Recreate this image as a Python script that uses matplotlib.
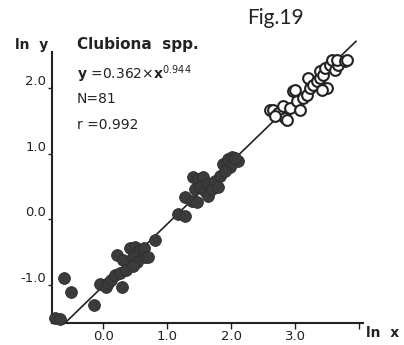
import numpy as np
import matplotlib.pyplot as plt

# ln x / ln y, filled circles (small instars) and open circles (adults)
filled_x = [-0.75, -0.68, -0.61, -0.50, -0.14, -0.05, 0.05, 0.08, 0.12, 0.19,
            0.27, 0.30, 0.22, 0.31, 0.36, 0.42, 0.50, 0.55, 0.58, 0.63,
            0.47, 0.53, 0.66, 0.70, 0.47, 0.81, 1.17, 1.28, 1.28, 1.39,
            1.44, 1.47, 1.41, 1.48, 1.56, 1.52, 1.59, 1.64, 1.63, 1.70,
            1.75, 1.83, 1.80, 1.88, 1.95, 2.02, 2.11, 1.98, 1.91, 2.06]
filled_y = [-1.50, -1.52, -0.89, -1.11, -1.31, -0.98, -1.03, -0.97, -0.92, -0.85,
            -0.82, -1.03, -0.54, -0.62, -0.77, -0.43, -0.42, -0.49, -0.46, -0.43,
            -0.57, -0.65, -0.57, -0.58, -0.71, -0.31, 0.08, 0.05, 0.34, 0.28,
            0.46, 0.26, 0.65, 0.62, 0.65, 0.49, 0.43, 0.54, 0.35, 0.46,
            0.58, 0.66, 0.49, 0.85, 0.92, 0.95, 0.89, 0.80, 0.74, 0.93]

open_x = [2.61, 2.66, 2.73, 2.84, 2.88, 2.69, 2.81, 2.92, 2.97, 3.03,
          3.08, 3.13, 3.19, 3.23, 3.20, 3.28, 3.34, 3.39, 3.39, 3.44,
          3.47, 3.55, 3.58, 3.50, 3.42, 3.63, 3.67, 3.66, 3.78, 3.81, 3.00]
open_y = [1.66, 1.66, 1.62, 1.54, 1.51, 1.58, 1.72, 1.69, 1.95, 1.80,
          1.66, 1.85, 1.89, 2.00, 2.15, 2.05, 2.11, 2.15, 2.26, 2.20,
          2.31, 2.35, 2.43, 2.00, 1.97, 2.28, 2.35, 2.43, 2.42, 2.43, 1.97]

# y = a * x^b
a = 0.362
b = 0.944
n = 81
r = 0.992

xticks = [0, 1, 2, 3, 4]
xlabels = ['0.0', '1.0', '2.0', '3.0', '']
yticks = [-1, 0, 1, 2]
ylabels = ['-1.0', '0.0', '1.0', '2.0']

W, H = 404, 345
fig = plt.figure(figsize=(W / 100, H / 100), dpi=100)
ax = fig.add_axes([52 / W, 22 / H, 311 / W, 271 / H])
ax.set_xlim(-0.8, 4.06)
ax.set_ylim(-1.58, 2.55)

ink = '#222222'

# regression line
lx = np.array([-0.6, 3.95])
ax.plot(lx, np.log(a) + b * lx, color=ink, lw=1.2, zorder=2, clip_on=False)

ax.scatter(filled_x, filled_y, s=72, color='#3b3b3b', edgecolors='#2e2e2e',
           linewidths=0.6, zorder=3, clip_on=False)
ax.scatter(open_x, open_y, s=60, facecolors='white', edgecolors=ink,
           linewidths=1.5, zorder=4, clip_on=False)

for side in ['top', 'right']:
    ax.spines[side].set_visible(False)
for side in ['left', 'bottom']:
    ax.spines[side].set_linewidth(1.5)
    ax.spines[side].set_color(ink)

ax.set_xticks(xticks)
ax.set_xticklabels(xlabels)
ax.set_yticks(yticks)
ax.set_yticklabels(ylabels)
ax.tick_params(axis='x', direction='out', length=4, width=1, colors=ink,
               labelsize=9.5, pad=1)
ax.tick_params(axis='y', direction='out', length=3, width=1, colors=ink,
               labelsize=9.5, pad=1)
for lab in ax.get_yticklabels():
    lab.set_verticalalignment('bottom')

def ftext(px, py, s, **kw):
    fig.text(px / W, 1 - py / H, s, color=ink, **kw)

ftext(15, 45, 'ln  y', fontsize=10, fontweight='bold', va='center')
ftext(366, 333, 'ln  x', fontsize=10, fontweight='bold', va='center')
ftext(247, 18, 'Fig.19', fontsize=15, fontfamily='Lato', va='center')

ftext(77, 45, 'Clubiona  spp.', fontsize=11, fontweight='bold', va='center')
plt.rcParams['mathtext.fontset'] = 'dejavusans'
ftext(77, 74, r'$\mathbf{y}$ =0.362×$\mathbf{x}^{0.944}$', fontsize=10,
      va='center')
ftext(77, 99, 'N=81', fontsize=10, va='center')
ftext(77, 125, 'r =0.992', fontsize=10, va='center')

fig.savefig('out.png', dpi=100)
